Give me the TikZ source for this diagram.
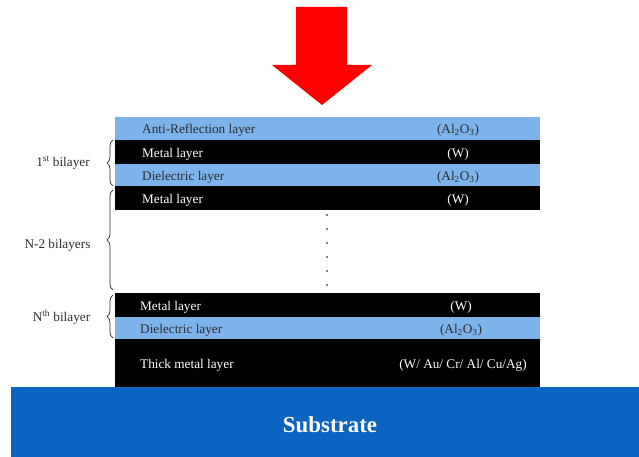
\documentclass[tikz,border=0pt]{standalone}
\usepackage{fontspec}
\setmainfont{Liberation Serif}
\usetikzlibrary{decorations.pathreplacing}
\definecolor{lblue}{RGB}{125,178,234}
\definecolor{subblue}{RGB}{10,100,192}
\definecolor{dtext}{RGB}{45,45,45}
\tikzset{
  layer/.style={draw=none, anchor=north west, minimum width=425bp, inner sep=0pt, outer sep=0pt},
  metal/.style={layer, fill=black},
  diel/.style={layer, fill=lblue},
  ltxt/.style={anchor=west, font=\fontsize{13.3}{15}\selectfont, inner sep=0pt, yshift=-1.5bp},
  rtxt/.style={anchor=center, font=\fontsize{13.3}{15}\selectfont, inner sep=0pt, yshift=-1.5bp},
  wtxt/.style={text=white},
  btxt/.style={text=dtext},
  lab/.style={anchor=center, font=\fontsize{13.3}{15}\selectfont, text=dtext, inner sep=0pt},
  brc/.style={draw=dtext, line width=0.7pt, decorate, decoration={brace, amplitude=6bp}},
  dotmark/.style={circle, fill=black, inner sep=0pt, minimum size=1.8bp},
}
\begin{document}
\begin{tikzpicture}[x=1bp,y=-1bp]
\useasboundingbox (0,0) rectangle (639,457);
% arrow
\fill[red] (296,7) -- (347,7) -- (347,65) -- (372,65) -- (322,105) -- (272,65) -- (296,65) -- cycle;
% layers
\node[diel, minimum height=23bp] (ar) at (115,117) {};
\node[metal, minimum height=24bp] (m1) at (115,140) {};
\node[diel, minimum height=22bp] (d1) at (115,164) {};
\node[metal, minimum height=24bp] (m2) at (115,186) {};
\node[metal, minimum height=24bp] (mn) at (115,293) {};
\node[diel, minimum height=22bp] (dn) at (115,317) {};
\node[metal, minimum height=48bp] (tm) at (115,339) {};
\node[anchor=north west, fill=subblue, minimum width=628bp, minimum height=71bp, inner sep=0pt] (sub) at (11,387) {};
% left texts
\node[ltxt, btxt] (t1) at (142,129) {Anti-Reflection layer};
\node[ltxt, wtxt] (t2) at (142,152.5) {Metal layer};
\node[ltxt, btxt] (t3) at (142,175.5) {Dielectric layer};
\node[ltxt, wtxt] (t4) at (142,198.5) {Metal layer};
\node[ltxt, wtxt] (t5) at (140,305.5) {Metal layer};
\node[ltxt, btxt] (t6) at (140,328.5) {Dielectric layer};
\node[ltxt, wtxt] (t7) at (140,364) {Thick metal layer};
% right texts
\node[rtxt, btxt] (r1) at (458,129) {(Al\textsubscript{2}O\textsubscript{3})};
\node[rtxt, wtxt] (r2) at (458,152.5) {(W)};
\node[rtxt, btxt] (r3) at (458,175.5) {(Al\textsubscript{2}O\textsubscript{3})};
\node[rtxt, wtxt] (r4) at (458,198.5) {(W)};
\node[rtxt, wtxt] (r5) at (461,305.5) {(W)};
\node[rtxt, btxt] (r6) at (461,328.5) {(Al\textsubscript{2}O\textsubscript{3})};
\node[rtxt, wtxt] (r7) at (463,364) {(W/ Au/ Cr/ Al/ Cu/Ag)};
% substrate text
\node[anchor=center, text=white, font=\fontsize{23}{27}\selectfont\bfseries] (st) at (330,425) {Substrate};
% dots
\foreach \i/\yy in {1/215,2/229,3/243,4/257,5/271,6/285}
  \node[dotmark] (dot\i) at (327,\yy) {};
% braces
\coordinate (b1a) at (113,186);
\coordinate (b1b) at (113,140);
\coordinate (b2a) at (113,290);
\coordinate (b2b) at (113,190);
\coordinate (b3a) at (113,338);
\coordinate (b3b) at (113,295);
\draw[brc] (b1a) -- (b1b);
\draw[brc] (b2a) -- (b2b);
\draw[brc] (b3a) -- (b3b);
% brace labels
\node[lab] (l1) at (63,163) {1\textsuperscript{st} bilayer};
\node[lab] (l2) at (57.5,245) {N-2 bilayers};
\node[lab] (l3) at (61.5,317) {N\textsuperscript{th} bilayer};
\end{tikzpicture}
\end{document}
